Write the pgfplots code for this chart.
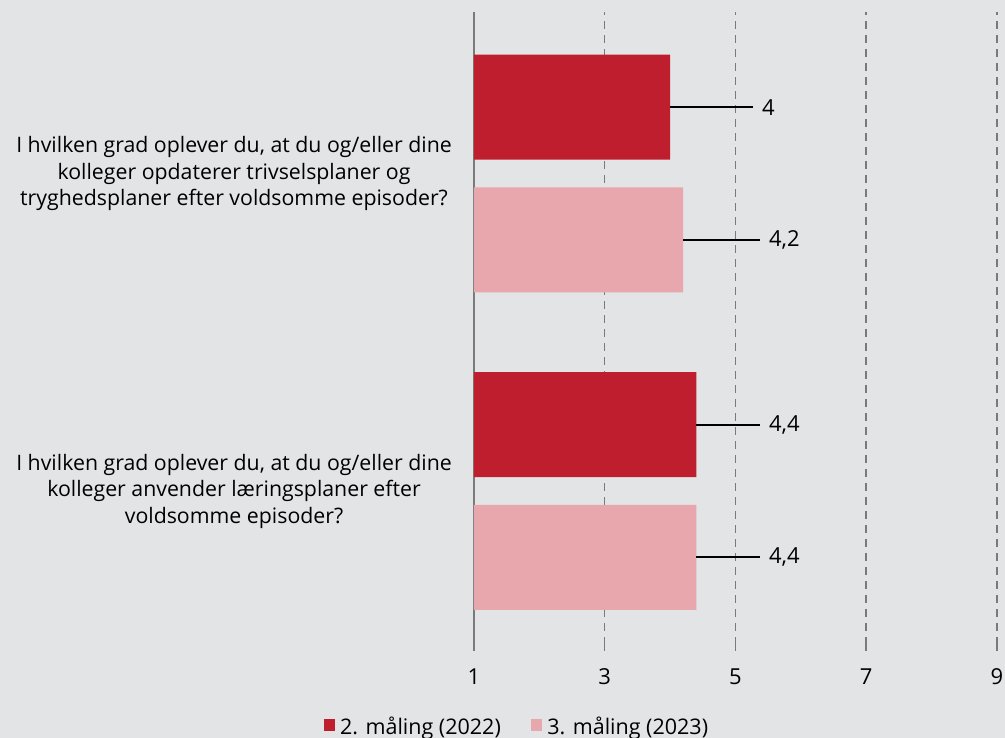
\documentclass[border=0pt]{standalone}
\usepackage{fontspec}
\setmainfont{Open Sans}
\usepackage{pgfplots}
\pgfplotsset{compat=1.18}
\definecolor{bg}{HTML}{E3E4E5}
\definecolor{dred}{HTML}{BE1E2D}
\definecolor{lpink}{HTML}{E8A7AD}
\definecolor{gridc}{HTML}{7A7A7A}
\begin{document}
\begin{tikzpicture}
\path[use as bounding box, fill=bg] (0pt,0pt) rectangle (1005pt,738pt);
\begin{axis}[
  at={(474pt,93pt)}, anchor=south west,
  scale only axis, width=523pt, height=633pt,
  xmin=1, xmax=9, ymin=-0.485, ymax=1.509,
  axis x line*=bottom, axis y line*=left,
  x axis line style={draw=none},
  y axis line style={draw=gridc, line width=1.5pt, -},
  xtick={1,3,5,7,9},
  xmajorgrids,
  major grid style={draw=gridc, line width=1.5pt, dash pattern=on 8pt off 6pt},
  tick align=outside,
  xtick style={draw=gridc, line width=1.5pt},
  major tick length=6pt,
  ytick={0,1},
  ytick style={draw=none},
  yticklabels={{I hvilken grad oplever du, at du og/eller dine\\kolleger anvender læringsplaner efter\\voldsomme episoder?},
               {I hvilken grad oplever du, at du og/eller dine\\kolleger opdaterer trivselsplaner og\\tryghedsplaner efter voldsomme episoder?}},
  yticklabel style={align=center, anchor=east, inner sep=0pt, xshift=-16pt, font=\fontsize{21.3}{26.5}\selectfont},
  xticklabel style={anchor=base, inner sep=0pt, yshift=-34pt, font=\fontsize{22}{26}\selectfont},
  /pgf/number format/assume math mode=true,
  legend style={at={(rel axis cs:0.082,-0.128)}, anchor=center, draw=none, fill=none,
    legend columns=2, font=\fontsize{21.5}{24}\selectfont,
    /tikz/every odd column/.append style={column sep=3pt},
    /tikz/every even column/.append style={column sep=28pt}},
  legend image code/.code={\fill[#1] (0pt,-4.5pt) rectangle (11.5pt,7pt);},
]
\addplot[xbar, bar width=105pt, bar shift=0pt, fill=dred, draw=none,
  error bars/.cd, x dir=plus, x explicit, error mark=none,
  error bar style={black, line width=2pt}]
  coordinates {(4,1.209) +- (1.27,0) (4.4,0.209) +- (0.97,0)};
\addlegendentry{2. måling (2022)}
\addplot[xbar, bar width=105pt, bar shift=0pt, fill=lpink, draw=none,
  error bars/.cd, x dir=plus, x explicit, error mark=none,
  error bar style={black, line width=2pt}]
  coordinates {(4.2,0.791) +- (1.17,0) (4.4,-0.209) +- (0.97,0)};
\addlegendentry{3. måling (2023)}
\addplot[draw=none, mark=none, forget plot,
  nodes near coords, point meta=explicit symbolic,
  every node near coord/.style={anchor=west, inner sep=0pt, font=\fontsize{22}{26}\selectfont, text=black}]
  coordinates {(5.405,1.209) [4] (5.51,0.791) [{4,2}] (5.51,0.209) [{4,4}] (5.51,-0.209) [{4,4}]};
\end{axis}
\end{tikzpicture}
\end{document}
